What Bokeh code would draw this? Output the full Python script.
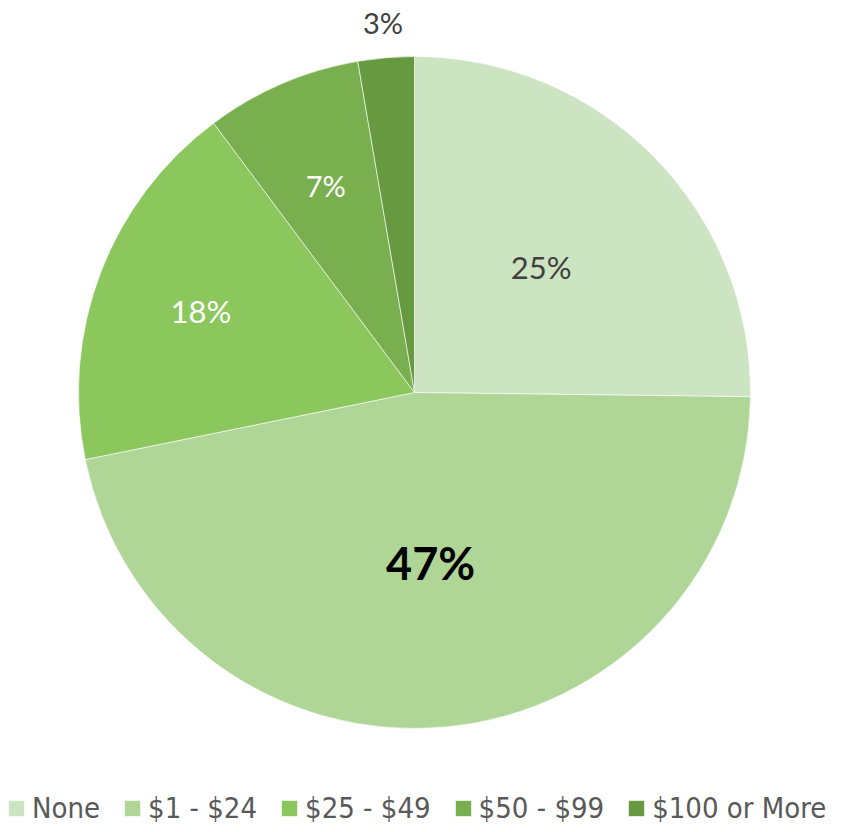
import numpy as np
from bokeh.plotting import figure
from bokeh.models import Range1d, Legend, LegendItem
from bokeh.core.properties import value
from bokeh.embed import file_html
from bokeh.resources import INLINE

categories = ["None", "$1 - $24", "$25 - $49", "$50 - $99", "$100 or More"]
values = [25.2, 46.6, 18.0, 7.5, 2.7]
labels = ["25%", "47%", "18%", "7%", "3%"]
colors = ["#cce4c1", "#afd597", "#8cc75e", "#7aaf50", "#679a40"]
label_colors = ["#404040", "#000000", "#ffffff", "#ffffff", "#404040"]
label_sizes = ["31px", "45px", "31px", "29px", "29px"]
label_styles = ["normal", "bold", "normal", "normal", "normal"]
label_radius = [0.53, 0.51, 0.68, 0.67, 1.105]

W, H = 846, 828
p = figure(width=W, height=H, output_backend="svg", toolbar_location=None,
           x_range=Range1d(0, W), y_range=Range1d(-H, 0),
           min_border=0)
p.axis.visible = False
p.grid.visible = False
p.outline_line_color = None

cx, cy, R = 414, -392, 336
v = np.array(values) / sum(values)
cum = np.concatenate([[0], np.cumsum(v)])
start = np.pi / 2 - 2 * np.pi * cum[:-1]
end = np.pi / 2 - 2 * np.pi * cum[1:]
mid = (start + end) / 2

renderers = []
for i in range(len(categories)):
    r = p.wedge(x=cx, y=cy, radius=R, start_angle=start[i], end_angle=end[i],
                direction="clock", fill_color=colors[i], line_color="#ffffff",
                line_width=0.6)
    renderers.append(r)

for i in range(len(categories)):
    lx = cx + label_radius[i] * R * np.cos(mid[i])
    ly = cy + label_radius[i] * R * np.sin(mid[i])
    p.text(x=[lx], y=[ly], text=[labels[i]], text_align="center",
           text_baseline="middle", text_color=label_colors[i],
           text_font_size=label_sizes[i], text_font=value("Lato"),
           text_font_style=label_styles[i])

items = [LegendItem(label=categories[i], renderers=[renderers[i]]) for i in range(len(categories))]
legend = Legend(items=items, orientation="horizontal", location=(6, 3),
                label_text_font="'DejaVu Sans Condensed', Roboto",
                label_text_font_size="29px",
                label_text_color="#595959", glyph_width=20, glyph_height=20,
                label_standoff=6, spacing=22, padding=2, margin=0,
                border_line_color=None, background_fill_alpha=0)
p.add_layout(legend)

open("out.html", "w").write(file_html(p, INLINE))
